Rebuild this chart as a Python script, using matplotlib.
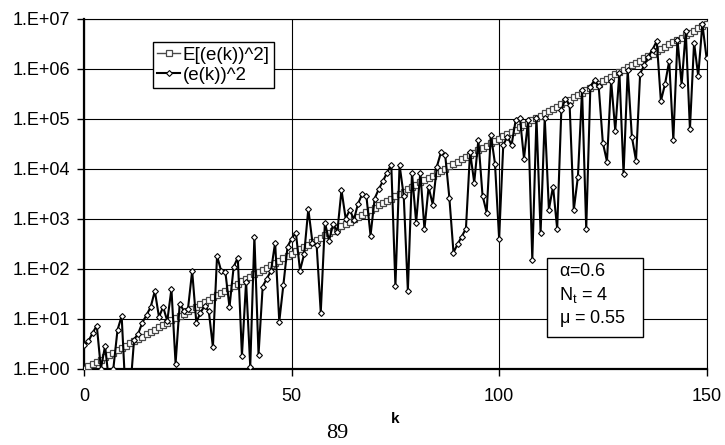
import matplotlib.pyplot as plt
import matplotlib.patches as patches
import numpy as np

plt.rcParams['font.family'] = ['Liberation Sans', 'DejaVu Sans']
plt.rcParams['mathtext.default'] = 'regular'

# sample index k = 0..150
k = list(range(151))

# log10 of E[(e(k))^2]
log_expected = [
    0.00, 0.05, 0.09, 0.14, 0.18, 0.23, 0.28, 0.32, 0.37, 0.41,
    0.46, 0.51, 0.55, 0.60, 0.64, 0.69, 0.74, 0.78, 0.83, 0.87,
    0.92, 0.97, 1.01, 1.06, 1.10, 1.15, 1.20, 1.24, 1.29, 1.33,
    1.38, 1.43, 1.47, 1.52, 1.56, 1.61, 1.66, 1.70, 1.75, 1.79,
    1.84, 1.89, 1.93, 1.98, 2.02, 2.07, 2.12, 2.16, 2.21, 2.25,
    2.30, 2.35, 2.39, 2.44, 2.48, 2.53, 2.58, 2.62, 2.67, 2.71,
    2.76, 2.81, 2.85, 2.90, 2.94, 2.99, 3.04, 3.08, 3.13, 3.17,
    3.22, 3.27, 3.31, 3.36, 3.40, 3.45, 3.50, 3.54, 3.59, 3.63,
    3.68, 3.73, 3.77, 3.82, 3.86, 3.91, 3.96, 4.00, 4.05, 4.09,
    4.14, 4.19, 4.23, 4.28, 4.32, 4.37, 4.42, 4.46, 4.51, 4.55,
    4.60, 4.65, 4.69, 4.74, 4.78, 4.83, 4.88, 4.92, 4.97, 5.01,
    5.06, 5.11, 5.15, 5.20, 5.24, 5.29, 5.34, 5.38, 5.43, 5.47,
    5.52, 5.57, 5.61, 5.66, 5.70, 5.75, 5.80, 5.84, 5.89, 5.93,
    5.98, 6.03, 6.07, 6.12, 6.16, 6.21, 6.26, 6.30, 6.35, 6.39,
    6.44, 6.49, 6.53, 6.58, 6.62, 6.67, 6.72, 6.76, 6.81, 6.85,
    6.90,
]

# log10 of (e(k))^2
log_actual = [
    0.48, 0.55, 0.71, 0.86, 0.00, 0.45, -0.30, 0.00, 0.77, 1.05,
    -0.60, -0.50, 0.58, 0.70, 0.92, 1.07, 1.23, 1.55, 1.03, 1.23,
    0.95, 1.59, 0.10, 1.30, 1.15, 1.20, 1.95, 0.92, 1.12, 1.25,
    1.15, 0.43, 2.25, 1.95, 1.93, 1.23, 2.03, 2.22, 0.26, 1.74,
    0.04, 2.64, 0.28, 1.64, 1.80, 1.95, 2.52, 0.94, 1.68, 2.44,
    2.60, 2.72, 1.96, 2.29, 3.19, 2.52, 2.48, 1.12, 2.92, 2.56,
    2.89, 2.74, 3.57, 3.00, 3.17, 2.98, 3.30, 3.49, 3.45, 2.66,
    3.40, 3.59, 3.75, 3.92, 4.08, 1.65, 4.07, 3.46, 1.56, 3.91,
    2.92, 3.92, 2.79, 3.63, 3.28, 4.04, 4.33, 4.27, 3.42, 2.32,
    2.49, 2.64, 2.80, 4.33, 3.72, 4.57, 3.46, 3.12, 4.68, 4.10,
    2.60, 4.47, 4.64, 4.47, 4.97, 5.02, 4.20, 4.97, 2.18, 5.02,
    2.72, 5.02, 3.18, 3.64, 2.79, 5.17, 5.40, 5.27, 3.17, 3.84,
    5.57, 2.79, 5.64, 5.77, 5.65, 4.52, 4.14, 5.76, 4.76, 5.92,
    3.89, 5.97, 4.64, 4.16, 5.90, 6.07, 6.24, 6.38, 6.55, 5.35,
    5.69, 6.15, 4.58, 6.58, 5.68, 6.75, 4.79, 6.52, 5.85, 6.89,
    6.22,
]

y_ticks = [0, 1, 2, 3, 4, 5, 6, 7]
x_ticks = [0, 50, 100, 150]
legend_labels = ['E[(e(k))^2]', '(e(k))^2']
param_lines = [r'$\alpha$=0.6', r'N$_t$ = 4', r'$\mu$ = 0.55']

expected = 10.0 ** np.array(log_expected)
actual = 10.0 ** np.array(log_actual)

fig = plt.figure(figsize=(7.25, 4.45), dpi=100)
ax = fig.add_axes([0.1163, 0.1719, 0.8582, 0.7865])

ax.plot(k, expected, color='#484848', lw=1.0, marker='s', ms=4.4,
        mfc='white', mec='#484848', mew=0.9, label=legend_labels[0], zorder=3)
ax.plot(k, actual, color='black', lw=1.5, marker='D', ms=3.0,
        mfc='white', mec='black', mew=0.8, label=legend_labels[1], zorder=4)

ax.set_yscale('log')
ax.set_xlim(0, 150)
ax.set_ylim(1, 1e7)
ax.set_yticks([10.0 ** t for t in y_ticks])
ax.set_yticklabels(['1.E+%02d' % t for t in y_ticks])
ax.yaxis.set_minor_locator(plt.NullLocator())
ax.set_xticks(x_ticks)
ax.tick_params(axis='both', labelsize=13, direction='out', length=5, width=1)
ax.tick_params(axis='x', pad=9)
ax.tick_params(axis='y', pad=5)

ax.grid(True, color='black', lw=0.8)
ax.set_axisbelow(True)
for s in ['left', 'bottom']:
    ax.spines[s].set_linewidth(1.6)
for s in ['top', 'right']:
    ax.spines[s].set_linewidth(0.8)

ax.set_xlabel('k', fontsize=11, fontweight='bold', labelpad=5)

leg = ax.legend(loc='upper left', bbox_to_anchor=(0.110, 0.933), borderaxespad=0,
                fontsize=13.5, handlelength=1.2, handletextpad=0.15, borderpad=0.25,
                labelspacing=0.15, fancybox=False, framealpha=1, edgecolor='black')
leg.get_frame().set_linewidth(1.0)

box = patches.Rectangle((0.7437, 0.09), 0.1543, 0.2257, transform=ax.transAxes,
                        facecolor='white', edgecolor='black', lw=1.0, zorder=5)
ax.add_patch(box)
for txt, yy in zip(param_lines, [0.2766, 0.21, 0.1434]):
    ax.text(0.763, yy, txt, transform=ax.transAxes, fontsize=13,
            va='center', ha='left', zorder=6)

fig.text(337 / 725, 1 - 433 / 445, '89', fontsize=16, family='Liberation Serif',
         ha='center', va='center')

fig.savefig('out.png', dpi=100)
